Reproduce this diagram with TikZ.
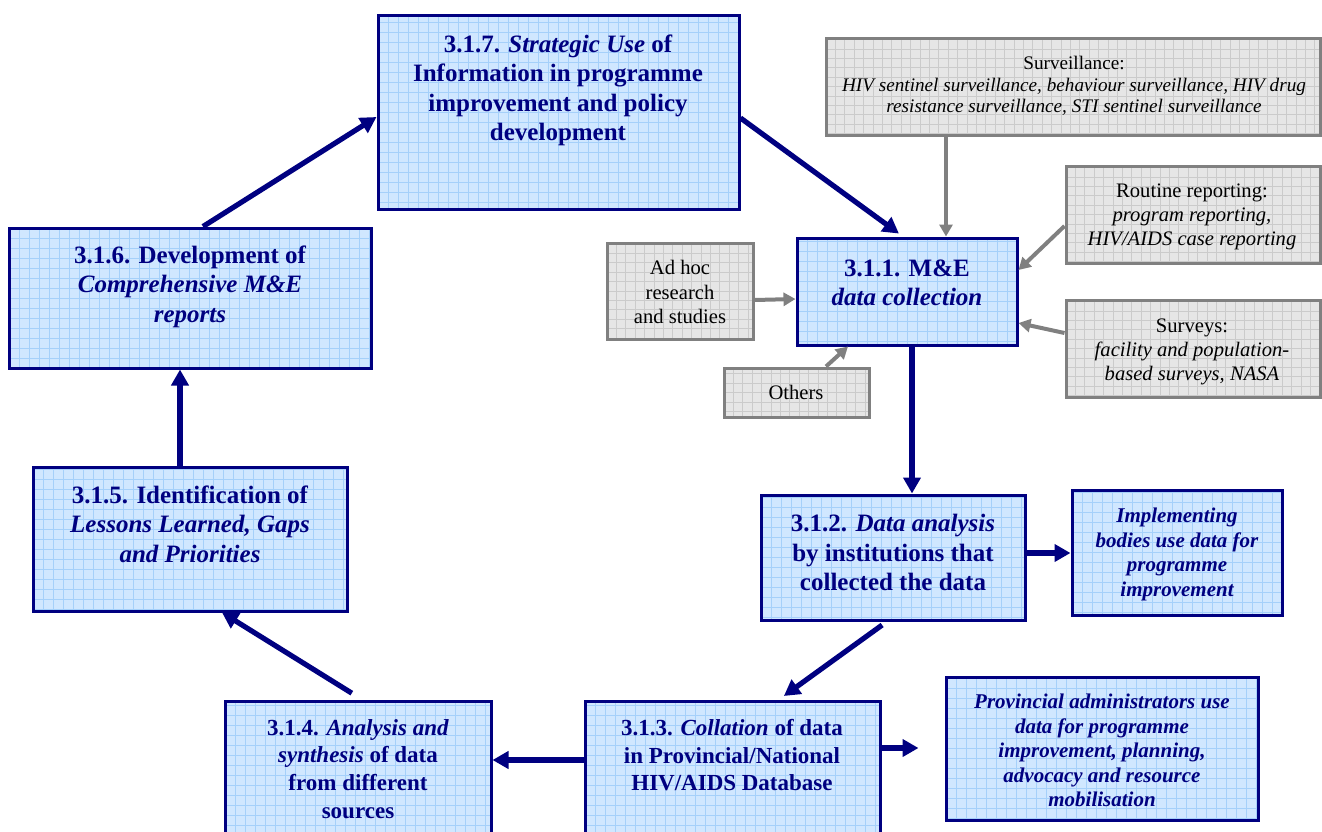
\documentclass[tikz,border=0pt]{standalone}
\usepackage{fontspec}
\setmainfont{LiberationSerif}[Extension=.ttf, UprightFont=*-Regular, BoldFont=*-Bold, ItalicFont=*-Italic, BoldItalicFont=*-BoldItalic]
\usetikzlibrary{arrows.meta,fit}
\definecolor{navy}{RGB}{0,0,128}
\definecolor{bfill}{RGB}{208,231,255}
\definecolor{bgrid}{RGB}{165,208,250}
\definecolor{gfill}{RGB}{230,230,230}
\definecolor{ggrid}{RGB}{203,203,203}
\definecolor{gline}{RGB}{128,128,128}
\tikzset{
  bluebox/.style={draw=navy, line width=1.5pt, fill=bfill, inner sep=0pt,
    path picture={\draw[bgrid, line width=0.35pt] (path picture bounding box.south west) grid[step=5pt] (path picture bounding box.north east);}},
  graybox/.style={draw=gline, line width=1.5pt, fill=gfill, inner sep=0pt,
    path picture={\draw[ggrid, line width=0.35pt] (path picture bounding box.south west) grid[step=4.7pt] (path picture bounding box.north east);}},
  bt/.style={text=navy, align=center, inner sep=0pt, anchor=north, font=\bfseries\fontsize{12.5}{14.8}\selectfont},
  bts/.style={text=navy, align=center, inner sep=0pt, anchor=north, font=\bfseries\itshape\fontsize{10.5}{12.2}\selectfont},
  gt/.style={text=black, align=center, inner sep=0pt, anchor=north, font=\fontsize{10.3}{12.2}\selectfont},
  navyarrow/.style={draw=navy, line width=2.6pt, -{Triangle[length=8pt,width=8.5pt]}},
  grayarrow/.style={draw=gline, line width=2pt, -{Triangle[length=6pt,width=6.5pt]}},
}
\begin{document}
\begin{tikzpicture}[x=0.5pt,y=-0.5pt]
\useasboundingbox (0,0) rectangle (1322,831);
% gray source boxes
\node[graybox, fit={(826,38) (1320,135)}] (surv) {};
\node[graybox, fit={(1066,166) (1320,263)}] (rout) {};
\node[graybox, fit={(1066,300) (1320,397)}] (svys) {};
\node[graybox, fit={(607,243) (753,339)}] (adhoc) {};
\node[graybox, fit={(724,368) (869,417)}] (others) {};
% blue boxes
\node[bluebox, fit={(378,15) (739,209)}] (b7) {};
\node[bluebox, fit={(9,228) (371,368)}] (b6) {};
\node[bluebox, fit={(33,467) (347,611)}] (b5) {};
\node[bluebox, fit={(225,701) (491,850)}] (b4) {};
\node[bluebox, fit={(585,701) (880,850)}] (b3) {};
\node[bluebox, fit={(946,677) (1258,820)}] (prov) {};
\node[bluebox, fit={(761,495) (1025,620)}] (b2) {};
\node[bluebox, fit={(1072,490) (1282,615)}] (impl) {};
\node[bluebox, fit={(797,238) (1017,345)}] (b1) {};
% texts
\node[bt] (b7t) at (558,34) {3.1.7. \textit{Strategic Use} of\\Information in programme\\improvement and policy\\development};
\node[bt] (b6t) at (190,245) {3.1.6. Development of\\\textit{Comprehensive M\&E}\\\textit{reports}};
\node[bt] (b5t) at (190,485) {3.1.5. Identification of\\\textit{Lessons Learned, Gaps}\\\textit{and Priorities}};
\node[bt] (b1t) at (907,259) {3.1.1. M\&E\\\textit{data collection}};
\node[bt] (b2t) at (893,514) {3.1.2. \textit{Data analysis}\\by institutions that\\collected the data};
\node[bt, font=\bfseries\fontsize{11.5}{13.8}\selectfont] (b3t) at (732,719) {3.1.3. \textit{Collation} of data\\in Provincial/National\\HIV/AIDS Database};
\node[bt, font=\bfseries\fontsize{11.5}{13.8}\selectfont] (b4t) at (358,719) {3.1.4. \textit{Analysis and}\\\textit{synthesis} of data\\from different\\sources};
\node[bts] (implt) at (1177,508) {Implementing\\bodies use data for\\programme\\improvement};
\node[bts] (provt) at (1102,694) {Provincial administrators use\\data for programme\\improvement, planning,\\advocacy and resource\\mobilisation};
\node[gt, font=\fontsize{9.6}{10.8}\selectfont] (survt) at (1074,56) {Surveillance:\\\textit{HIV sentinel surveillance, behaviour surveillance, HIV drug}\\\textit{resistance surveillance, STI sentinel surveillance}};
\node[gt] (routt) at (1192,183) {Routine reporting:\\\textit{program reporting,}\\\textit{HIV/AIDS case reporting}};
\node[gt] (svyst) at (1192,318) {Surveys:\\\textit{facility and population-}\\\textit{based surveys, NASA}};
\node[gt] (adhoct) at (680,260) {Ad hoc\\research\\and studies};
\node[gt] (otherst) at (796,385) {Others};
% navy connectors
\draw[navyarrow] (b5.north -| 180,0) -- (b6.south -| 180,0);
\draw[navyarrow] (b6.north -| 203,0) -- (b7.west |- 0,117);
\draw[navyarrow, shorten >=2.5pt] (b7.east |- 0,118) -- (b1.north -| 903,0);
\draw[navyarrow] (b1.south -| 912,0) -- (b2.north -| 912,0);
\draw[navyarrow] (b2.east |- 0,553) -- (impl.west |- 0,553);
\draw[navyarrow, shorten <=3pt, shorten >=3pt] (b2.south -| 887,0) -- (b3.north -| 779,0);
\draw[navyarrow] (b3.west |- 0,760) -- (b4.east |- 0,760);
\draw[navyarrow, shorten >=13pt] (b3.east |- 0,748) -- (prov.west |- 0,748);
\draw[navyarrow, shorten <=6pt] (b4.north -| 362,0) -- (b5.south -| 222,0);
% gray connectors
\draw[grayarrow] (surv.south -| 946,0) -- (b1.north -| 946,0);
\draw[grayarrow] (rout.west |- 0,226) -- (b1.east |- 0,270);
\draw[grayarrow] (svys.west |- 0,333) -- (b1.east |- 0,323);
\draw[grayarrow] (adhoc.east |- 0,300) -- (b1.west |- 0,299);
\draw[grayarrow] (others.north -| 826,0) -- (b1.south -| 848,0);
\end{tikzpicture}
\end{document}
